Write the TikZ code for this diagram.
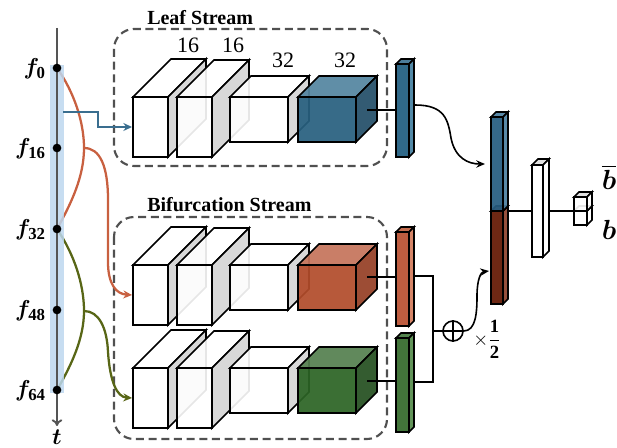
\documentclass[tikz,border=0pt]{standalone}
\usepackage{fontspec}
\setmainfont{Liberation Serif}
\usepackage{amsmath}
\usepackage{bm}
\usetikzlibrary{arrows.meta}

% palette
\definecolor{bandblue}{RGB}{189,215,238}
\definecolor{axisgray}{RGB}{85,85,85}
\definecolor{dashgray}{RGB}{80,80,80}
\definecolor{sidegray}{RGB}{212,212,212}
\definecolor{topgray}{RGB}{222,222,222}
\definecolor{flowblue}{RGB}{58,110,143}
\definecolor{floworange}{RGB}{200,96,64}
\definecolor{flowgreen}{RGB}{88,102,22}
% leaf (blue) feature maps
\definecolor{lbfront}{RGB}{40,96,127}
\definecolor{lbtop}{RGB}{84,133,160}
\definecolor{lbside}{RGB}{36,79,104}
\definecolor{lbarfront}{RGB}{32,94,128}
\definecolor{lbarside}{RGB}{70,128,160}
\definecolor{lbartop}{RGB}{62,115,147}
% bifurcation (orange) feature maps
\definecolor{obfront}{RGB}{178,76,43}
\definecolor{obtop}{RGB}{197,116,91}
\definecolor{obside}{RGB}{150,64,38}
\definecolor{obarfront}{RGB}{185,81,49}
\definecolor{obarside}{RGB}{210,124,92}
\definecolor{obartop}{RGB}{194,99,67}
% bifurcation (green) feature maps
\definecolor{gbfront}{RGB}{44,100,37}
\definecolor{gbtop}{RGB}{85,128,80}
\definecolor{gbside}{RGB}{37,80,32}
\definecolor{gbarfront}{RGB}{52,107,43}
\definecolor{gbarside}{RGB}{86,140,76}
\definecolor{gbartop}{RGB}{70,123,65}
% fused (concatenated) vector
\definecolor{brownfront}{RGB}{99,24,2}
\definecolor{brownside}{RGB}{142,67,45}
\definecolor{cbfront}{RGB}{38,92,128}
\definecolor{cbside}{RGB}{76,128,160}

% cuboid: #1 x, #2 y (front top-left), #3 width, #4 height, #5 depth,
%         #6 front fill, #7 top fill, #8 side fill
\newcommand{\cuboid}[8]{%
  \filldraw[boxedge, fill=#7] (#1,#2) -- ++(#5,-#5) -- ++(#3,0) -- ++(-#5,#5) -- cycle;
  \filldraw[boxedge, fill=#8] (#1+#3,#2) -- ++(#5,-#5) -- ++(0,#4) -- ++(-#5,#5) -- cycle;
  \filldraw[boxedge, fill=#6] (#1,#2) rectangle ++(#3,#4);
}

% one convolutional stream: #1 vertical offset, #2/#3/#4 colours of the last block
\newcommand{\convrow}[4]{%
  \cuboid{133}{97+#1}{35}{60}{38}{white}{white}{sidegray}
  \cuboid{177}{97+#1}{35}{60}{37}{white}{white}{sidegray}
  \cuboid{230}{97+#1}{58}{45}{21}{white}{white}{sidegray}
  \begin{scope}[boxedge/.append style={fill opacity=0.93}]
  \cuboid{298}{97+#1}{58}{45}{21}{#2}{#3}{#4}
  \end{scope}
}

\begin{document}
\begin{tikzpicture}[x=0.75pt,y=-0.75pt,
  boxedge/.style={draw=black, line width=1.3pt, line join=miter, fill opacity=0.9},
  streambox/.style={draw=dashgray, line width=1.6pt, dash pattern=on 6pt off 3.5pt, rounded corners=15pt},
  streamtitle/.style={font=\fontsize{15}{18}\selectfont\bfseries, anchor=west, inner sep=0pt},
  chan/.style={font=\fontsize{16.5}{19}\selectfont, inner sep=0pt},
  flabel/.style={font=\fontsize{18}{20}\selectfont, anchor=east, inner sep=0pt},
  dot/.style={circle, fill=black, inner sep=0pt, minimum size=6.5pt},
  flow/.style={line width=1.7pt, -{Stealth[length=6.5pt,width=6pt]}},
  wire/.style={draw=black, line width=1.2pt},
  fuse/.style={line width=1.2pt, -{Stealth[length=6.5pt,width=5.5pt]}}
]
\useasboundingbox (0,0) rectangle (617,448);

% ---------- time axis ----------
\coordinate (tTop) at (57,28);
\coordinate (tEnd) at (57,426);
\coordinate (k0) at (57,68);
\coordinate (k16) at (57,148);
\coordinate (k32) at (57,229);
\coordinate (k48) at (57,310);
\coordinate (k64) at (57,390);
\coordinate (splitA) at (84,148);
\coordinate (splitB) at (84,311);

% key-frame tracks feeding the bifurcation stream
\draw[floworange, line width=1.7pt] (k0) .. controls (74,92) and (84,122) .. (splitA)
   .. controls (84,176) and (72,202) .. (k32);
\draw[flowgreen, line width=1.7pt] (k32) .. controls (74,254) and (84,284) .. (splitB)
   .. controls (84,338) and (72,364) .. (k64);

\fill[bandblue, opacity=0.85] (50,65) rectangle (64,393);
\draw[axisgray, line width=1.4pt, -{To[length=5pt,width=8pt]}] (tTop) -- (tEnd);
\node[font=\fontsize{16}{18}\selectfont, inner sep=0pt] (tlab) at (57,437) {$\bm{t}$};

\foreach \k/\y in {0/68,16/148,32/229,48/310,64/390}{
  \node[dot] (d\k) at (57,\y) {};
  \node[flabel] (f\k) at (46,\y+1) {$\bm{f}_{\mathbf{\k}}$};
}

% ---------- stream frames ----------
\draw[streambox] (114,29) rectangle (387,166);
\node[streamtitle] (leafT) at (147,18) {Leaf Stream};
\draw[streambox] (114,217) rectangle (387,439);
\node[streamtitle] (bifT) at (147,205) {Bifurcation Stream};

% ---------- conv blocks ----------
\convrow{0}{lbfront}{lbtop}{lbside}
\convrow{168}{obfront}{obtop}{obside}
\convrow{271}{gbfront}{gbtop}{gbside}

\node[chan] (c1) at (188,45) {16};
\node[chan] (c2) at (233,45) {16};
\node[chan] (c3) at (283,60) {32};
\node[chan] (c4) at (345,60) {32};

% inputs into the streams
\coordinate (inLeaf) at (132,127);
\coordinate (inOr) at (132,295);
\coordinate (inGr) at (132,398);
\draw[flowblue, flow] (63,112) -- (98,112) -- (98,127) -- (inLeaf);
\draw[floworange, flow] (splitA) .. controls (100,148) and (108,166) .. (108,200)
   -- (108,262) .. controls (108,284) and (116,294) .. (inOr);
\draw[flowgreen, flow] (splitB) .. controls (99,311) and (107,328) .. (108,352)
   .. controls (110,382) and (117,397) .. (inGr);

% ---------- pooled vectors ----------
\coordinate (cubeL) at (367,110);
\coordinate (cubeO) at (367,277);
\coordinate (cubeG) at (367,381);
\coordinate (barL) at (396,110);
\coordinate (barO) at (396,277);
\coordinate (barG) at (396,381);
\draw[wire] (cubeL) -- (barL);
\draw[wire] (cubeO) -- (barO);
\draw[wire] (cubeG) -- (barG);

\begin{scope}[boxedge/.append style={fill opacity=0.93}]
\cuboid{396}{64}{13}{93}{5}{lbarfront}{lbartop}{lbarside}
\cuboid{396}{232}{13}{94}{5}{obarfront}{obartop}{obarside}
\cuboid{396}{338}{13}{94}{5}{gbarfront}{gbartop}{gbarside}
\end{scope}

% averaging of the two bifurcation branches
\coordinate (oOut) at (414,276);
\coordinate (gOut) at (414,382);
\coordinate (sumIn) at (433,331);
\node[circle, draw=black, line width=1.2pt, minimum size=15pt, inner sep=0pt] (sum) at (453,331) {};
\draw[line width=1.2pt] (sum.north) -- (sum.south) (sum.west) -- (sum.east);
\draw[wire] (oOut) -| (sumIn) |- (gOut);
\draw[wire] (sumIn) -- (sum.west);
\node[font=\fontsize{14}{16}\selectfont, inner sep=0pt] (half) at (487,339) {$\times\dfrac{\mathbf{1}}{\mathbf{2}}$};

% ---------- fused vector and classifier ----------
\begin{scope}[boxedge/.append style={fill opacity=0.93}]
\cuboid{491}{211}{12}{93}{5}{brownfront}{brownside}{brownside}
\cuboid{491}{117}{12}{94}{5}{cbfront}{cbside}{cbside}
\end{scope}

\coordinate (leafOut) at (415,105);
\coordinate (catTop) at (485,164);
\coordinate (catBot) at (489,271);
\draw[fuse] (leafOut) .. controls (445,105) and (448,120) .. (451,138)
   .. controls (455,158) and (468,164) .. (catTop);
\draw[fuse] (sum.east) .. controls (476,331) and (477,312) .. (477,296)
   .. controls (477,279) and (481,272) .. (catBot);

\coordinate (catOut) at (508,211);
\coordinate (fcIn) at (532,211);
\coordinate (fcOut) at (549,211);
\coordinate (clsIn) at (574,211);
\draw[wire] (catOut) -- (fcIn);
\cuboid{532}{165}{11}{92}{6}{white}{topgray}{white}
\draw[wire] (fcOut) -- (clsIn);
\cuboid{574}{211}{13}{14}{5}{white}{topgray}{white}
\cuboid{574}{197}{13}{14}{5}{white}{topgray}{white}

\node[font=\fontsize{21}{24}\selectfont, inner sep=0pt] (bbar) at (609,177) {$\overline{\bm{b}}$};
\node[font=\fontsize{21}{24}\selectfont, inner sep=0pt] (bsym) at (609,230) {$\bm{b}$};

\end{tikzpicture}
\end{document}
